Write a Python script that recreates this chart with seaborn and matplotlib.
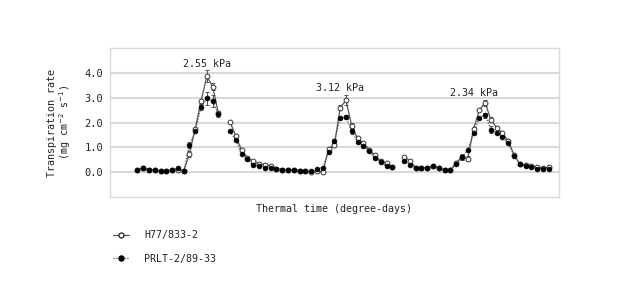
import numpy as np
import pandas as pd
import matplotlib
matplotlib.use("Agg")
import matplotlib.pyplot as plt
from matplotlib.lines import Line2D
import seaborn as sns

# ---- data ----
day_index = list(range(72))
segment_breaks = [15, 45]  # indices with no measurement

h77 = [0.11, 0.16, 0.11, 0.11, 0.05, 0.05, 0.09, 0.10, 0.04, 0.75, 1.76, 2.88, 3.87, 3.44, 2.37,
       np.nan,
       2.02, 1.45, 0.89, 0.58, 0.44, 0.35, 0.30, 0.27, 0.14, 0.11, 0.11, 0.10, 0.07, 0.04, 0.00,
       0.04, 0.00, 0.94, 1.10, 2.59, 2.90, 1.85, 1.36, 1.18, 0.91, 0.68, 0.44, 0.36, 0.22,
       np.nan,
       0.63, 0.47, 0.19, 0.18, 0.19, 0.24, 0.16, 0.11, 0.09, 0.38, 0.62, 0.54, 1.73, 2.50, 2.80,
       2.12, 1.79, 1.58, 1.26, 0.70, 0.33, 0.28, 0.24, 0.22, 0.17, 0.20]
prlt = [0.11, 0.16, 0.11, 0.11, 0.05, 0.05, 0.09, 0.17, 0.04, 1.09, 1.67, 2.63, 2.97, 2.86, 2.34,
        np.nan,
        1.65, 1.29, 0.73, 0.52, 0.28, 0.24, 0.19, 0.19, 0.14, 0.11, 0.11, 0.10, 0.07, 0.07, 0.05,
        0.14, 0.19, 0.83, 1.25, 2.19, 2.22, 1.65, 1.21, 1.05, 0.86, 0.58, 0.40, 0.24, 0.22,
        np.nan,
        0.44, 0.31, 0.19, 0.18, 0.19, 0.24, 0.16, 0.11, 0.09, 0.32, 0.60, 0.91, 1.56, 2.20, 2.30,
        1.72, 1.58, 1.42, 1.16, 0.66, 0.32, 0.27, 0.20, 0.15, 0.15, 0.15]
h77_err = {9: 0.12, 12: 0.25, 13: 0.15, 14: 0.1, 35: 0.1, 36: 0.2, 37: 0.12, 56: 0.12, 57: 0.1, 60: 0.12, 61: 0.1}
prlt_err = {9: 0.12, 11: 0.12, 12: 0.25, 13: 0.25, 14: 0.1, 34: 0.08, 36: 0.08, 37: 0.12, 56: 0.1, 60: 0.1, 61: 0.15}

vpd_labels = ["2.55 kPa", "3.12 kPa", "2.34 kPa"]
vpd_x = [12, 35, 58]
vpd_y = [4.15, 3.18, 3.0]

series_names = ["H77/833-2", "PRLT-2/89-33"]

# ---- build tidy frame ----
def seg_of(i):
    return sum(i > b for b in segment_breaks)

rows = []
for name, vals in zip(series_names, [h77, prlt]):
    for i, v in zip(day_index, vals):
        if not np.isnan(v):
            rows.append({"x": i, "y": v, "series": name, "seg": seg_of(i)})
df = pd.DataFrame(rows)

sns.set_theme(style="white")
plt.rcParams["font.family"] = ["DejaVu Sans Mono"]
FS = 7.2
TXT = "#222222"

fig = plt.figure(figsize=(6.4, 3.0), dpi=100)
ax = fig.add_axes([0.172, 0.343, 0.701, 0.497])

grid_c = "#d9d9d9"
for yv in [0, 1, 2, 3, 4]:
    ax.axhline(yv, color=grid_c, lw=1.5, zorder=0)

# lines
sns.lineplot(data=df[df.series == series_names[0]], x="x", y="y", units="seg",
             estimator=None, color="#555555", lw=0.9, ax=ax, legend=False, zorder=2)
sns.lineplot(data=df[df.series == series_names[1]], x="x", y="y", units="seg",
             estimator=None, color="#555555", lw=0.9, ls=(0, (1, 1.2)), ax=ax, legend=False, zorder=2)

# error bars
for errs, vals in [(h77_err, h77), (prlt_err, prlt)]:
    xs = list(errs.keys())
    ys = [vals[i] for i in xs]
    es = [errs[i] for i in xs]
    ax.errorbar(xs, ys, yerr=es, fmt="none", ecolor="#555555", elinewidth=0.7,
                capsize=1.5, capthick=0.7, zorder=2)

# markers
d0 = df[df.series == series_names[0]]
d1 = df[df.series == series_names[1]]
sns.scatterplot(data=d0, x="x", y="y", marker="o", s=12, facecolor="white",
                edgecolor="#333333", linewidth=0.7, ax=ax, legend=False, zorder=3)
sns.scatterplot(data=d1, x="x", y="y", marker="o", s=12, color="black",
                edgecolor="black", linewidth=0.5, ax=ax, legend=False, zorder=4)

for lab, xi, yv in zip(vpd_labels, vpd_x, vpd_y):
    ax.text(xi, yv, lab, ha="center", va="bottom", fontsize=FS, color=TXT)

ax.set_xlim(-4.7, 72.7)
ax.set_ylim(-1, 5)
ax.set_yticks([0, 1, 2, 3, 4])
ax.set_yticklabels(["0.0", "1.0", "2.0", "3.0", "4.0"], fontsize=FS + 0.3, color=TXT)
ax.set_xticks([])
ax.tick_params(axis="y", length=0, pad=5)
for s in ax.spines.values():
    s.set_color(grid_c)
    s.set_linewidth(1.0)

ax.set_xlabel("Thermal time (degree-days)", fontsize=FS, color=TXT, labelpad=5)
ax.set_ylabel("Transpiration rate\n(mg cm$^{-2}$ s$^{-1}$)", fontsize=FS, color=TXT,
              labelpad=8, linespacing=1.0)

handles = [
    Line2D([], [], color="#555555", lw=0.9, marker="o", markersize=3.6,
           markerfacecolor="white", markeredgecolor="#333333"),
    Line2D([], [], color="#555555", lw=0.9, ls=(0, (1, 1.2)), marker="o", markersize=3.6,
           markerfacecolor="black", markeredgecolor="black"),
]
fig.legend(handles, series_names, loc="upper left", bbox_to_anchor=(0.163, 0.262),
           frameon=False, fontsize=FS, handlelength=1.6, handletextpad=1.5,
           labelspacing=1.35, labelcolor=TXT)

fig.savefig("out.png", dpi=100)
